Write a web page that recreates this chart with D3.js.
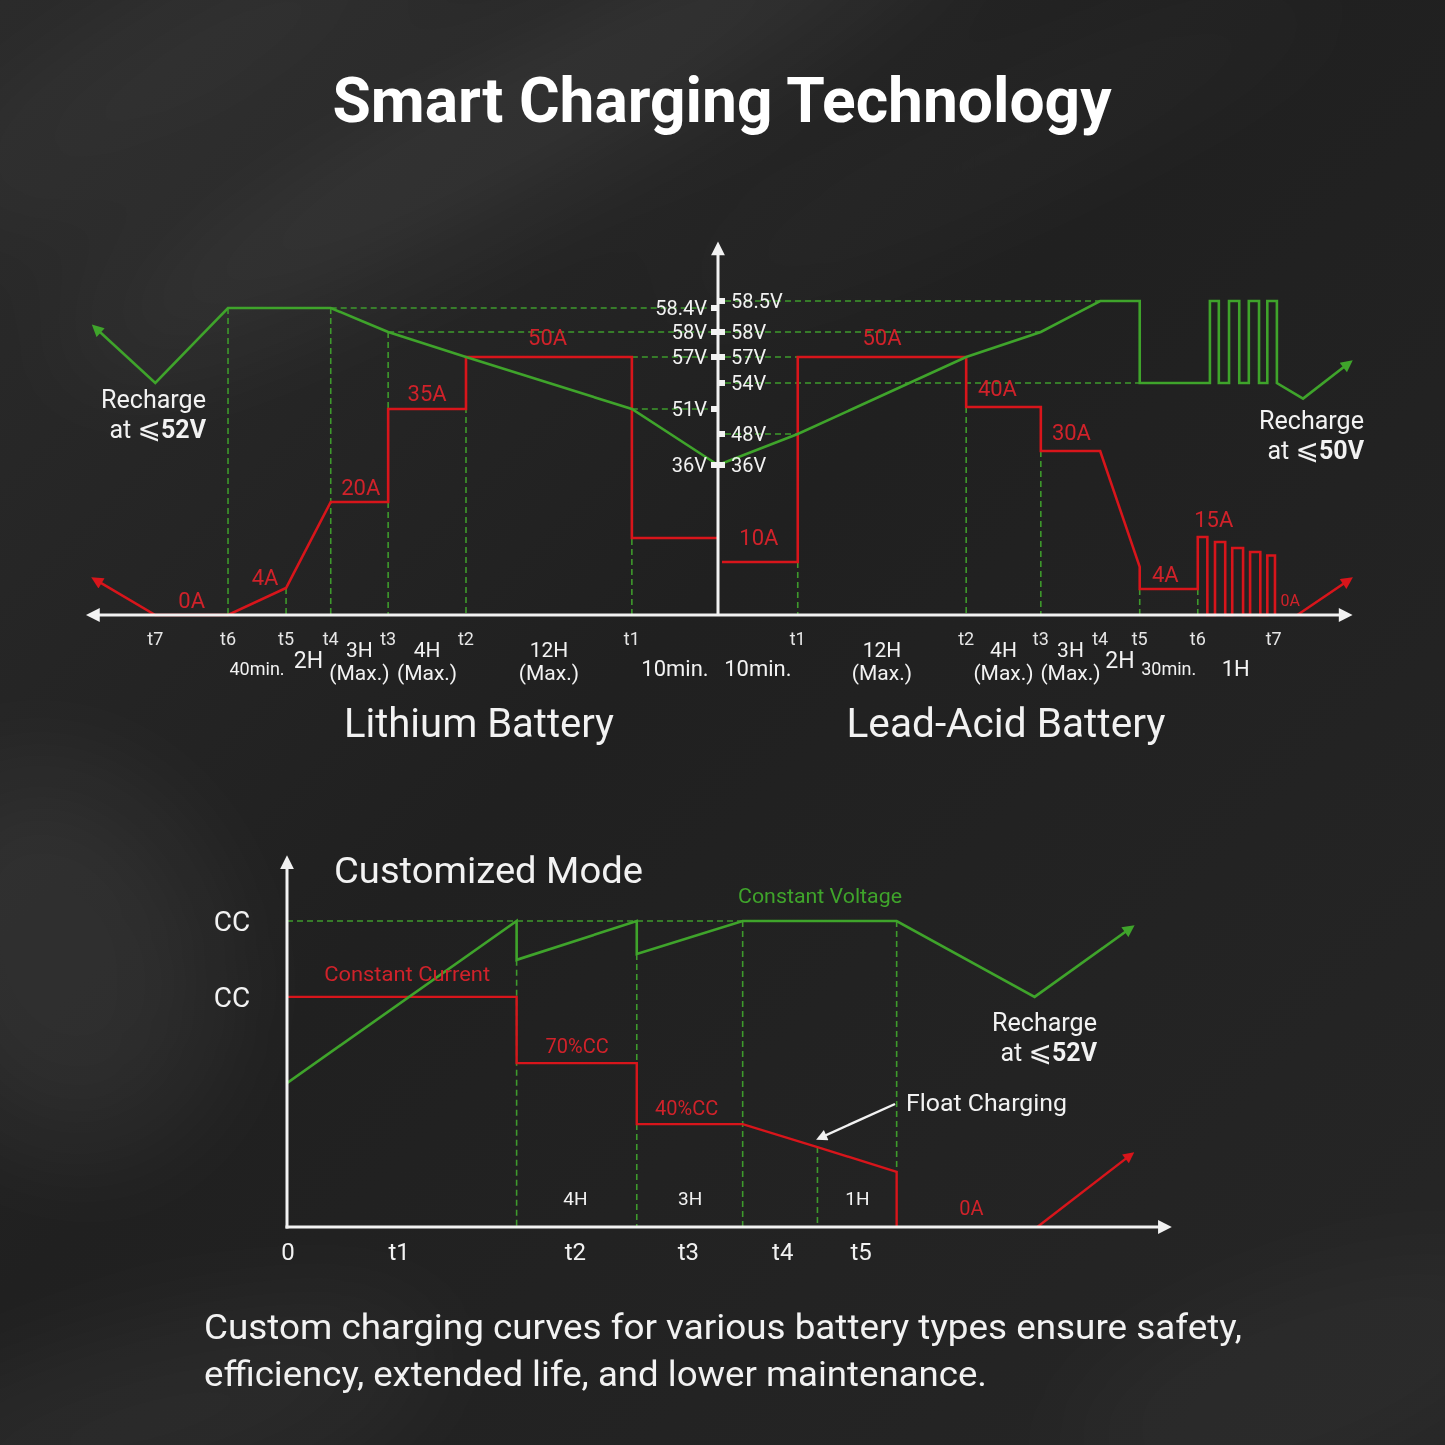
<!DOCTYPE html>
<html><head><meta charset="utf-8">
<script src="https://cdn.jsdelivr.net/npm/d3@7"></script>
<style>
body{margin:0;background:#222;}
svg{display:block;}
text{font-family:Roboto,"Noto Sans",sans-serif;}
</style>
</head><body>
<svg id="c" width="1445" height="1445"></svg>
<script>
// ================= DATA =================
const titleText = "Smart Charging Technology";
const footerLines = ["Custom charging curves for various battery types ensure safety,",
                     "efficiency, extended life, and lower maintenance."];
const sectionNames = ["Lithium Battery", "Lead-Acid Battery"];

// schematic voltage levels shared by both sides (V)
const voltLevels = [36, 48, 51, 54, 57, 58, 58.4, 58.5];
const liVoltTicks = [58.4, 58, 57, 51, 36];
const laVoltTicks = [58.5, 58, 57, 54, 48, 36];
// schematic current levels (A)
const liCurLevels = [0, 4, 10, 20, 35, 50];
const laCurLevels = [0, 4, 10, 15, 30, 40, 50];

// ---- Lithium (time runs leftwards from the centre, schematic units) ----
const liStageNames = ["t1","t2","t3","t4","t5","t6","t7"];
const liStageT = [-13.5, -39.5, -51.7, -60.7, -67.7, -76.8, -88.2];
const liDurations = ["10min.", "12H|(Max.)", "4H|(Max.)", "3H|(Max.)", "2H", "40min."];
const liVoltT = [0, -13.5, -39.5, -51.7, -60.7, -76.8, -88.2, -97.6];
const liVoltV = [36, 51, 57, 58, 58.4, 58.4, 54, 58.07];
const liCurT = [0, -13.5, -13.5, -39.5, -39.5, -51.7, -51.7, -60.7, -67.7, -76.8, -88.2, -97.6];
const liCurA = [10, 10, 50, 50, 35, 35, 20, 20, 4, 0, 0, 5];
const liCurLabels = ["0A", "4A", "20A", "35A", "50A"];
const liCurLabelT = [-82.5, -71.0, -56.0, -45.6, -26.7];
const liCurLabelA = [0, 4, 20, 35, 50];
const liGuideT = [-13.5, -39.5, -51.7, -60.7, -67.7, -76.8];
const liGuideKind = ["v", "v", "v", "v", "a", "v"];
const liGuideVal = [51, 57, 58, 58.4, 4, 58.4];
const liHGuideV = [58.4, 58, 57, 51];
const liHGuideT = [-60.7, -51.7, -13.5, -13.5];

// ---- Lead-Acid (time runs rightwards) ----
const laStageNames = ["t1","t2","t3","t4","t5","t6","t7"];
const laStageT = [12.5, 38.9, 50.6, 59.9, 66.1, 75.2, 87.1];
const laDurations = ["10min.", "12H|(Max.)", "4H|(Max.)", "3H|(Max.)", "2H", "30min.", "1H"];
const laVoltT = [0, 12.5, 38.9, 50.6, 59.9, 66.1, 66.1, 77.1, 77.1, 78.5, 78.5, 80.1, 80.1, 81.7, 81.7,
                 83.2, 83.2, 84.8, 84.8, 86.1, 86.1, 87.6, 87.6, 91.7, 98.9];
const laVoltV = [36, 48, 57, 58, 58.5, 58.5, 54, 54, 58.5, 58.5, 54, 54, 58.5, 58.5, 54,
                 54, 58.5, 58.5, 54, 54, 58.5, 58.5, 54, 52.2, 56.3];
const laCurT = [0, 12.5, 12.5, 38.9, 38.9, 50.6, 50.6, 59.9, 66.1, 66.1, 75.2, 75.2, 76.7, 76.7,
                77.9, 77.9, 79.5, 79.5, 80.6, 80.6, 82.3, 82.3, 83.4, 83.4, 85.0, 85.0, 86.1, 86.1, 87.3, 87.3];
const laCurA = [10, 10, 50, 50, 40, 40, 30, 30, 8.9, 4, 4, 15, 15, 0,
                0, 14, 14, 0, 0, 12.8, 12.8, 0, 0, 12, 12, 0, 0, 11.3, 11.3, 0];
const laArrowT = [90.8, 98.9];
const laArrowA = [0, 6];
const laCurLabels = ["10A", "50A", "40A", "30A", "4A", "15A", "0A"];
const laCurLabelT = [6.4, 25.7, 43.8, 55.4, 70.1, 77.7, 89.7];
const laCurLabelA = [10, 50, 40, 30, 4, 15, 0];
const laGuideT = [12.5, 38.9, 50.6, 66.1, 75.2];
const laGuideA = [10, 40, 30, 4, 4];
const laHGuideV = [58.5, 58, 57, 54, 48];
const laHGuideT = [59.9, 50.6, 12.5, 66.1, 12.5];

// ---- Customized mode (schematic units 0-100) ----
const cmTitle = "Customized Mode";
const cmAxisLabels = ["0", "t1", "t2", "t3", "t4", "t5"];
const cmAxisT = [0.1, 12.6, 32.4, 45.1, 55.7, 64.5];
const cmDurations = ["4H", "3H", "1H"];
const cmDurationT = [32.4, 45.3, 64.1];
const cmLevelNames = ["CC", "CC"];
const cmLevelV = [82.7, 62.2];
const cmVoltT = [0, 25.8, 25.8, 39.3, 39.3, 51.2, 68.5, 84.0, 94.8];
const cmVoltV = [38.9, 82.7, 72.2, 82.7, 73.8, 82.7, 82.7, 62.2, 80.8];
const cmCurT = [0, 25.8, 25.8, 39.3, 39.3, 51.2, 59.6, 68.5, 68.5];
const cmCurA = [62.2, 62.2, 44.3, 44.3, 27.8, 27.8, 21.6, 14.9, 0];
const cmArrowT = [84.3, 94.8];
const cmArrowA = [0, 19.5];
const cmGuideT = [25.8, 39.3, 51.2, 59.6, 68.5];
const cmGuideTop = [72.2, 73.8, 82.7, 21.6, 82.7];
const cmGuideBottom = [0, 0, 0, 0, 14.9];
const cmRedLabels = ["Constant Current", "70%CC", "40%CC", "0A"];
const cmRedLabelT = [13.5, 32.6, 44.9, 76.9];
const cmRedLabelV = [66.5, 47.0, 30.3, 3.2];

// ================= DRAW =================
const W = 1445, H = 1445;
const GREEN = "#3fa42b", RED = "#d8151b", REDTXT = "#d0222a", WHITE = "#f2f2f2", DASH = "#3e9a2c";
const svg = d3.select("#c");
const defs = svg.append("defs");

// background
const bg = defs.append("linearGradient").attr("id","bg").attr("x1","0").attr("y1","0").attr("x2","1").attr("y2","1");
bg.append("stop").attr("offset","0").attr("stop-color","#2b2b2b");
bg.append("stop").attr("offset","0.45").attr("stop-color","#202020");
bg.append("stop").attr("offset","1").attr("stop-color","#262626");
svg.append("rect").attr("width",W).attr("height",H).attr("fill","url(#bg)");
defs.append("filter").attr("id","blur").attr("x","-50%").attr("y","-50%").attr("width","200%").attr("height","200%")
  .append("feGaussianBlur").attr("stdDeviation",60);
const streaks = [
  {cx:520, cy:120, rx:520, ry:70, rot:-28, o:0.07},
  {cx:200, cy:60, rx:300, ry:50, rot:-30, o:0.06},
  {cx:1000, cy:150, rx:400, ry:40, rot:-25, o:0.035},
  {cx:60, cy:960, rx:160, ry:200, rot:-20, o:0.06},
  {cx:150, cy:1420, rx:300, ry:80, rot:-15, o:0.05},
  {cx:1300, cy:1380, rx:260, ry:90, rot:-20, o:0.03}
];
svg.append("g").attr("filter","url(#blur)").selectAll("ellipse").data(streaks).join("ellipse")
  .attr("cx",d=>d.cx).attr("cy",d=>d.cy).attr("rx",d=>d.rx).attr("ry",d=>d.ry)
  .attr("transform",d=>`rotate(${d.rot},${d.cx},${d.cy})`)
  .attr("fill","#ffffff").attr("fill-opacity",d=>d.o);

// markers
function marker(id, color){
  defs.append("marker").attr("id",id).attr("viewBox","0 0 10 10").attr("refX",6).attr("refY",5)
    .attr("markerWidth",5.2).attr("markerHeight",4.6).attr("orient","auto-start-reverse")
    .append("path").attr("d","M0,0 L10,5 L0,10 z").attr("fill",color);
}
marker("mG", GREEN); marker("mR", RED); marker("mW", WHITE);

function fitText(sel, w){ sel.attr("textLength", w).attr("lengthAdjust","spacingAndGlyphs"); return sel; }

// title
fitText(svg.append("text").attr("x",722).attr("y",122).attr("text-anchor","middle")
  .attr("font-size",63).attr("font-weight",700).attr("fill","#ffffff").text(titleText), 779);

// ---------- top chart ----------
const xTop = d3.scaleLinear().domain([-100, 100]).range([80, 1356]);
const yVolt = d3.scaleLinear().domain(voltLevels).range([465, 434, 409, 383, 357, 332, 308, 301]);
const yLiCur = d3.scaleLinear().domain(liCurLevels).range([615, 588, 538, 502, 409, 357]);
const yLaCur = d3.scaleLinear().domain(laCurLevels).range([615, 589, 562, 537, 451, 407, 357]);
const x0 = xTop(0), yBase = yLiCur(0);
const topG = svg.append("g");
const line = d3.line();

// guides (dashed)
const gd = topG.append("g").attr("stroke",DASH).attr("stroke-width",1.6).attr("stroke-dasharray","6,4").attr("fill","none");
liGuideT.forEach((t,i)=>{
  const y1 = liGuideKind[i]==="v" ? yVolt(liGuideVal[i]) : yLiCur(liGuideVal[i]);
  gd.append("line").attr("x1",xTop(t)).attr("x2",xTop(t)).attr("y1",y1).attr("y2",yBase);
});
laGuideT.forEach((t,i)=>{
  gd.append("line").attr("x1",xTop(t)).attr("x2",xTop(t)).attr("y1",yLaCur(laGuideA[i])).attr("y2",yBase);
});
liHGuideV.forEach((v,i)=>{
  gd.append("line").attr("x1",xTop(liHGuideT[i])).attr("x2",x0-7).attr("y1",yVolt(v)).attr("y2",yVolt(v));
});
laHGuideV.forEach((v,i)=>{
  gd.append("line").attr("x1",x0+7).attr("x2",xTop(laHGuideT[i])).attr("y1",yVolt(v)).attr("y2",yVolt(v));
});

// current lines
topG.append("path").attr("d", line(liCurT.map((t,i)=>[xTop(t), yLiCur(liCurA[i])])))
  .attr("fill","none").attr("stroke",RED).attr("stroke-width",2.6).attr("marker-end","url(#mR)");
topG.append("path").attr("d", line(laCurT.map((t,i)=>[xTop(t)+ (i===0?4:0), yLaCur(laCurA[i])])))
  .attr("fill","none").attr("stroke",RED).attr("stroke-width",2.6);
topG.append("path").attr("d", line(laArrowT.map((t,i)=>[xTop(t), yLaCur(laArrowA[i])])))
  .attr("fill","none").attr("stroke",RED).attr("stroke-width",2.6).attr("marker-end","url(#mR)");

// voltage lines
topG.append("path").attr("d", line(liVoltT.map((t,i)=>[xTop(t), yVolt(liVoltV[i])])))
  .attr("fill","none").attr("stroke",GREEN).attr("stroke-width",2.6).attr("marker-end","url(#mG)");
topG.append("path").attr("d", line(laVoltT.map((t,i)=>[xTop(t), yVolt(laVoltV[i])])))
  .attr("fill","none").attr("stroke",GREEN).attr("stroke-width",2.6).attr("marker-end","url(#mG)");

// axes
topG.append("line").attr("x1",xTop(-98.2)).attr("x2",xTop(98.6)).attr("y1",yBase).attr("y2",yBase)
  .attr("stroke",WHITE).attr("stroke-width",3).attr("marker-start","url(#mW)").attr("marker-end","url(#mW)");
topG.append("line").attr("x1",x0).attr("x2",x0).attr("y1",yBase).attr("y2",247)
  .attr("stroke",WHITE).attr("stroke-width",3).attr("marker-end","url(#mW)");

// voltage ticks + labels
const tk = topG.append("g");
liVoltTicks.forEach(v=>{
  tk.append("rect").attr("x",x0-7).attr("y",yVolt(v)-3).attr("width",6).attr("height",6).attr("fill",WHITE);
  tk.append("text").attr("x",x0-11).attr("y",yVolt(v)+7).attr("text-anchor","end")
    .attr("font-size",20).attr("fill",WHITE).text(v+"V");
});
laVoltTicks.forEach(v=>{
  tk.append("rect").attr("x",x0+1).attr("y",yVolt(v)-3).attr("width",6).attr("height",6).attr("fill",WHITE);
  tk.append("text").attr("x",x0+13).attr("y",yVolt(v)+7).attr("text-anchor","start")
    .attr("font-size",20).attr("fill",WHITE).text(v+"V");
});

// current labels
liCurLabels.forEach((s,i)=>{
  const dy = [-7,-3,-7,-8,-12][i];
  topG.append("text").attr("x",xTop(liCurLabelT[i])).attr("y",yLiCur(liCurLabelA[i])+dy)
    .attr("text-anchor","middle").attr("font-size",22).attr("fill",REDTXT).text(s);
});
laCurLabels.forEach((s,i)=>{
  const dy = [-17,-12,-11,-11,-7,-10,-9][i];
  topG.append("text").attr("x",xTop(laCurLabelT[i])).attr("y",yLaCur(laCurLabelA[i])+dy)
    .attr("text-anchor","middle").attr("font-size", i===6?16:22).attr("fill",REDTXT).text(s);
});

// stage (t) labels
function stageLabels(names, ts){
  names.forEach((s,i)=>{
    topG.append("text").attr("x",xTop(ts[i])).attr("y",645).attr("text-anchor","middle")
      .attr("font-size",18).attr("fill","#e6e6e6").text(s);
  });
}
stageLabels(liStageNames, liStageT);
stageLabels(laStageNames, laStageT);

function durationLabels(list, ts){
  const edges = [0].concat(ts);
  list.forEach((s,i)=>{
    const cx = xTop((edges[i]+edges[i+1])/2);
    const parts = s.split("|");
    if(parts.length===2){
      topG.append("text").attr("x",cx).attr("y",657).attr("text-anchor","middle").attr("font-size",21).attr("fill",WHITE).text(parts[0]);
      topG.append("text").attr("x",cx).attr("y",680).attr("text-anchor","middle").attr("font-size",21).attr("fill",WHITE).text(parts[1]);
    } else if(s==="2H"){
      topG.append("text").attr("x",cx).attr("y",668).attr("text-anchor","middle").attr("font-size",23).attr("fill",WHITE).text(s);
    } else if(s.indexOf("min")>=0 && s!=="10min."){
      topG.append("text").attr("x",cx).attr("y",675).attr("text-anchor","middle").attr("font-size",18).attr("fill",WHITE).text(s);
    } else {
      topG.append("text").attr("x",cx).attr("y",676).attr("text-anchor","middle").attr("font-size",22).attr("fill",WHITE).text(s);
    }
  });
}
durationLabels(liDurations, liStageT);
durationLabels(laDurations, laStageT);

// section names
fitText(svg.append("text").attr("x",479).attr("y",737).attr("text-anchor","middle").attr("font-size",40).attr("fill",WHITE).text(sectionNames[0]),270);
fitText(svg.append("text").attr("x",1006).attr("y",737).attr("text-anchor","middle").attr("font-size",40).attr("fill",WHITE).text(sectionNames[1]),319);

// recharge notes
function recharge(xr, y, val){
  const g = svg.append("g");
  fitText(g.append("text").attr("x",xr).attr("y",y).attr("text-anchor","end").attr("font-size",25).attr("fill",WHITE).text("Recharge"),105);
  const t2 = g.append("text").attr("x",xr).attr("y",y+30).attr("text-anchor","end").attr("font-size",25).attr("fill",WHITE);
  t2.append("tspan").text("at ");
  t2.append("tspan").attr("font-size",28).attr("font-family","DejaVu Sans").text("⩽");
  t2.append("tspan").attr("font-weight",700).text(val);
}
recharge(206, 408, "52V");
recharge(1364, 429, "50V");

// ---------- customized mode ----------
const xB = d3.scaleLinear().domain([0,100]).range([287, 1177]);
const yB = d3.scaleLinear().domain([0,100]).range([1227, 857]);
const bot = svg.append("g");
fitText(bot.append("text").attr("x",334).attr("y",883).attr("font-size",37).attr("fill",WHITE).text(cmTitle),309);

const gb = bot.append("g").attr("stroke",DASH).attr("stroke-width",1.6).attr("stroke-dasharray","6,4");
gb.append("line").attr("x1",xB(0)).attr("x2",xB(51.2)).attr("y1",yB(82.7)).attr("y2",yB(82.7));
cmGuideT.forEach((t,i)=>{
  gb.append("line").attr("x1",xB(t)).attr("x2",xB(t)).attr("y1",yB(cmGuideTop[i])).attr("y2",yB(cmGuideBottom[i]));
});

bot.append("path").attr("d", line(cmCurT.map((t,i)=>[xB(t), yB(cmCurA[i])])))
  .attr("fill","none").attr("stroke",RED).attr("stroke-width",2.4);
bot.append("path").attr("d", line(cmArrowT.map((t,i)=>[xB(t), yB(cmArrowA[i])])))
  .attr("fill","none").attr("stroke",RED).attr("stroke-width",2.4).attr("marker-end","url(#mR)");
bot.append("path").attr("d", line(cmVoltT.map((t,i)=>[xB(t), yB(cmVoltV[i])])))
  .attr("fill","none").attr("stroke",GREEN).attr("stroke-width",2.6).attr("marker-end","url(#mG)");

// axes
bot.append("line").attr("x1",xB(0)).attr("x2",xB(0)).attr("y1",yB(0)+1.5).attr("y2",yB(99))
  .attr("stroke",WHITE).attr("stroke-width",3).attr("marker-end","url(#mW)");
bot.append("line").attr("x1",xB(0)-1.5).attr("x2",xB(98.8)).attr("y1",yB(0)).attr("y2",yB(0))
  .attr("stroke",WHITE).attr("stroke-width",3).attr("marker-end","url(#mW)");

cmAxisLabels.forEach((s,i)=>{
  bot.append("text").attr("x",xB(cmAxisT[i])).attr("y",1260).attr("text-anchor","middle")
    .attr("font-size",24).attr("fill",WHITE).text(s);
});
cmDurations.forEach((s,i)=>{
  bot.append("text").attr("x",xB(cmDurationT[i])).attr("y",1205).attr("text-anchor","middle")
    .attr("font-size",19).attr("fill",WHITE).text(s);
});
cmLevelNames.forEach((s,i)=>{
  bot.append("text").attr("x",232).attr("y",yB(cmLevelV[i])+10).attr("text-anchor","middle")
    .attr("font-size",28).attr("fill",WHITE).text(s);
});
cmRedLabels.forEach((s,i)=>{
  const tt = bot.append("text").attr("x",xB(cmRedLabelT[i])).attr("y",yB(cmRedLabelV[i])).attr("text-anchor","middle")
    .attr("font-size",20).attr("fill",REDTXT).text(s);
  if(i===0) fitText(tt,166);
});
fitText(bot.append("text").attr("x",820).attr("y",903).attr("text-anchor","middle").attr("font-size",20)
  .attr("fill",GREEN).text("Constant Voltage"),164);

// float charging annotation
bot.append("line").attr("x1",895).attr("y1",1104).attr("x2",xB(59.9)).attr("y2",yB(24.1))
  .attr("stroke",WHITE).attr("stroke-width",2.4).attr("marker-end","url(#mW)");
fitText(bot.append("text").attr("x",906).attr("y",1111).attr("font-size",24).attr("fill",WHITE).text("Float Charging"),161);
recharge(1097, 1031, "52V");

// footer
fitText(svg.append("text").attr("x",204).attr("y",1339).attr("font-size",35).attr("fill",WHITE).text(footerLines[0]),1038);
fitText(svg.append("text").attr("x",204).attr("y",1386).attr("font-size",35).attr("fill",WHITE).text(footerLines[1]),783);
</script>
</body></html>
